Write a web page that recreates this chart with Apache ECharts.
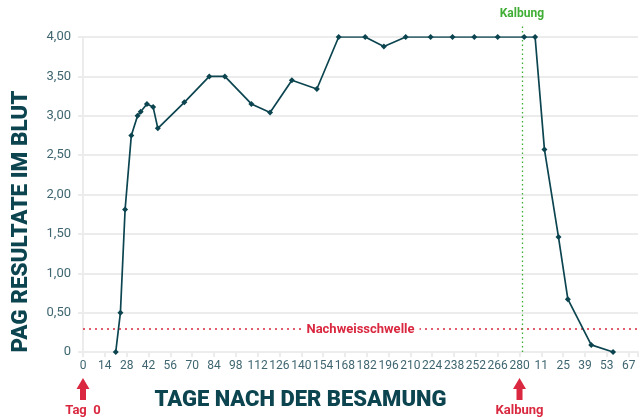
<!DOCTYPE html>
<html>
<head>
<meta charset="utf-8">
<script src="https://cdn.jsdelivr.net/npm/echarts@6/dist/echarts.min.js"></script>
<style>html,body{margin:0;padding:0;background:#fff;}#c{width:641px;height:420px;}</style>
</head>
<body>
<div id="c"></div>
<script>
// Days after insemination (values > 280 are after calving, calving ~ day 283)
const days = [21, 24, 27, 31, 35, 37, 41, 45, 48, 65, 81, 91, 108, 120, 134, 150, 164, 181, 193, 207, 223, 237, 251, 266, 283, 290, 296, 305, 311, 326, 340];
const pagValues = [0, 0.5, 1.81, 2.75, 3.0, 3.05, 3.15, 3.11, 2.84, 3.17, 3.5, 3.5, 3.15, 3.04, 3.45, 3.34, 4.0, 4.0, 3.88, 4.0, 4.0, 4.0, 4.0, 4.0, 4.0, 4.0, 2.57, 1.46, 0.67, 0.09, 0.0];
const calvingDay = 283;
const calvingTick = 280;
const threshold = 0.3;
const yTicks = [0, 0.5, 1, 1.5, 2, 2.5, 3, 3.5, 4];

const chart = echarts.init(document.getElementById('c'));
const tickColor = '#3f6670';
const gridColor = '#ececec';
const red = '#d9283f';
const green = '#3fae34';
const dark = '#0c4550';

const fmtX = v => {
  if (v % 14 !== 0) return '';
  return v <= 280 ? String(v) : String(v - calvingDay);
};

chart.setOption({
  animation: false,
  grid: [
    { left: 83, right: 0, top: 37, bottom: 68 },
    { left: 83, right: 0, top: 24, bottom: 68 }
  ],
  xAxis: [
    {
      type: 'value', gridIndex: 0, min: 0, max: 356, interval: 14,
      axisLine: { show: true, lineStyle: { color: gridColor, width: 2 } },
      axisTick: { show: true, length: 5, lineStyle: { color: gridColor, width: 2 } },
      splitLine: { show: false },
      axisLabel: { formatter: fmtX, color: tickColor, fontFamily: 'Roboto', fontSize: 12, margin: 8 },
      name: 'TAGE NACH DER BESAMUNG', nameLocation: 'middle', nameGap: 37,
      nameTextStyle: { color: dark, fontFamily: 'Roboto', fontWeight: 900, fontSize: 22, padding: [0, 120, 0, 0] }
    },
    { type: 'value', gridIndex: 1, min: 0, max: 356, show: false }
  ],
  yAxis: [
    {
      type: 'value', gridIndex: 0, min: 0, max: 4, interval: 0.5,
      axisLine: { show: true, lineStyle: { color: gridColor, width: 2 } },
      axisTick: { show: true, length: 5, lineStyle: { color: gridColor, width: 2 } },
      splitLine: { show: true, lineStyle: { color: gridColor, width: 2 } },
      axisLabel: {
        formatter: v => v === 0 ? '0' : v.toFixed(2).replace('.', ','),
        color: tickColor, fontFamily: 'Roboto', fontSize: 13, margin: 12
      },
      name: 'PAG RESULTATE IM BLUT', nameLocation: 'middle', nameGap: 50, nameRotate: 90,
      nameTextStyle: { color: dark, fontFamily: 'Roboto', fontWeight: 900, fontSize: 22.5, padding: [0, 54, 0, 0] }
    },
    { type: 'value', gridIndex: 1, min: 0, max: 1, show: false }
  ],
  series: [
    {
      type: 'line', xAxisIndex: 0, yAxisIndex: 0,
      data: days.map((d, i) => [d, pagValues[i]]),
      symbol: 'diamond', symbolSize: 6, showAllSymbol: true,
      lineStyle: { color: dark, width: 1.7 },
      itemStyle: { color: dark },
      markLine: {
        silent: true, symbol: 'none',
        lineStyle: { color: red, type: [2, 4], width: 1.5 },
        label: {
          show: true, position: 'middle', formatter: 'Nachweisschwelle',
          color: red, fontFamily: 'Roboto', fontWeight: 'bold', fontSize: 13,
          backgroundColor: '#fff', padding: [1, 5], distance: -9
        },
        data: [{ yAxis: threshold }]
      },
      z: 5
    },
    {
      type: 'line', xAxisIndex: 1, yAxisIndex: 1, data: [],
      markLine: {
        silent: true, symbol: 'none',
        lineStyle: { color: green, type: [1.5, 3], width: 1.3 },
        label: {
          show: true, position: 'end', formatter: 'Kalbung',
          color: green, fontFamily: 'Roboto', fontWeight: 'bold', fontSize: 12, distance: 4
        },
        data: [[{ coord: [calvingTick, 0] }, { coord: [calvingTick, 1] }]]
      }
    }
  ]
});

// Red arrow annotations below the axis, positioned via the axis scale
function arrow(day, text) {
  const p = chart.convertToPixel({ xAxisIndex: 0, yAxisIndex: 0 }, [day, 0]);
  const x = p[0];
  return [
    {
      type: 'polygon',
      shape: { points: [[x, 378], [x + 6.5, 389], [x + 3, 389], [x + 3, 400], [x - 3, 400], [x - 3, 389], [x - 6.5, 389]] },
      style: { fill: red }
    },
    {
      type: 'text', x: x, y: 411,
      style: { text: text, fill: red, font: 'bold 13px Roboto', align: 'center', verticalAlign: 'middle' }
    }
  ];
}
chart.setOption({ graphic: arrow(0, 'Tag  0').concat(arrow(calvingTick, 'Kalbung')) });
</script>
</body>
</html>
